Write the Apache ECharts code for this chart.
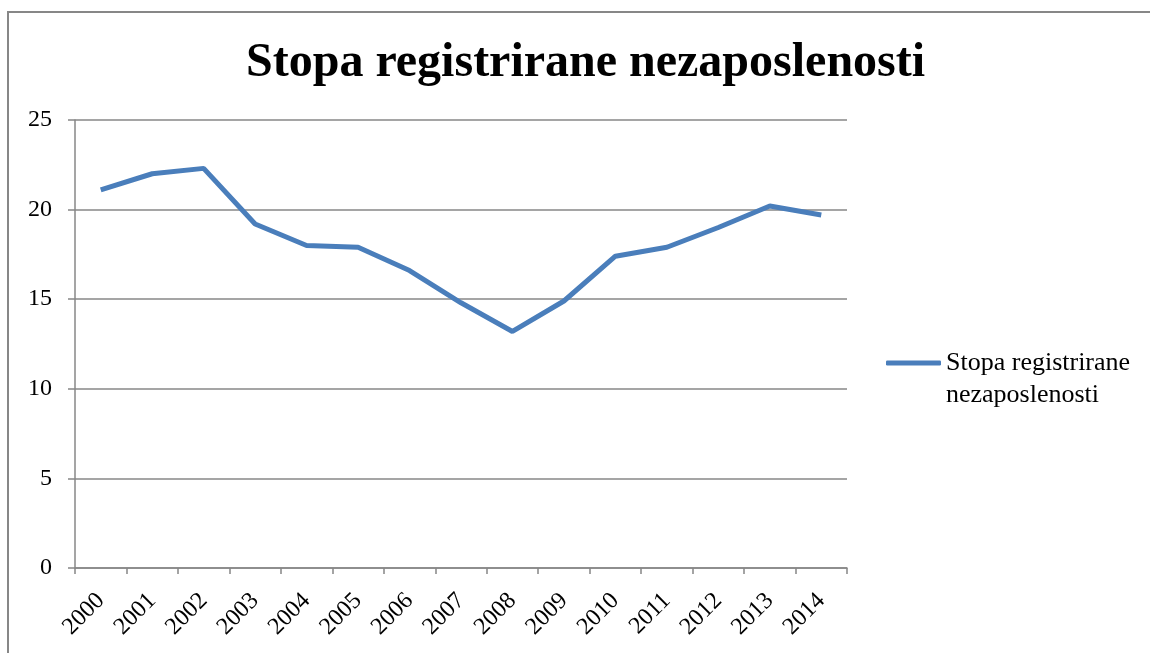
<!DOCTYPE html>
<html>
<head>
<meta charset="utf-8">
<title>Stopa registrirane nezaposlenosti</title>
<script src="https://cdn.jsdelivr.net/npm/echarts@6/dist/echarts.min.js"></script>
<style>
  html, body { margin: 0; padding: 0; background: #fff; }
  #chart { width: 1150px; height: 653px; }
</style>
</head>
<body>
<div id="chart"></div>
<script>
// podaci
var years = ['2000', '2001', '2002', '2003', '2004', '2005', '2006', '2007',
  '2008', '2009', '2010', '2011', '2012', '2013', '2014'];
var stopa = [21.1, 22.0, 22.3, 19.2, 18.0, 17.9, 16.6, 14.8,
  13.2, 14.9, 17.4, 17.9, 19.0, 20.2, 19.7];
var seriesName = 'Stopa registrirane nezaposlenosti';

var font = 'Liberation Serif, Times New Roman, serif';
var gray = '#878787';

var myChart = echarts.init(document.getElementById('chart'));

var option = {
  backgroundColor: '#fff',
  animation: false,
  title: {
    text: seriesName,
    left: 241,
    top: 35,
    textStyle: {fontFamily: font, fontWeight: 'bold', fontSize: 48, color: '#000'}
  },
  graphic: [{
    type: 'rect',
    shape: {x: 8, y: 12, width: 1200, height: 700},
    style: {fill: 'none', stroke: gray, lineWidth: 2},
    silent: true
  }],
  legend: {
    left: 881,
    top: 310,
    icon: 'roundRect',
    itemWidth: 55,
    itemHeight: 5,
    itemGap: 4,
    // prazan prvi red da ikona stoji uz prvi red teksta
    formatter: function () { return '\nStopa registrirane\nnezaposlenosti'; },
    textStyle: {fontFamily: font, fontSize: 26, color: '#000', lineHeight: 32},
    data: [seriesName]
  },
  grid: {left: 75, right: 303, top: 120, bottom: 85},
  xAxis: {
    type: 'category',
    data: years,
    boundaryGap: true,
    axisLine: {lineStyle: {color: gray, width: 1.5}},
    axisTick: {show: true, length: 6, lineStyle: {color: gray, width: 1.5}},
    axisLabel: {rotate: 45, margin: 29, fontFamily: font, fontSize: 24, color: '#000'}
  },
  yAxis: {
    type: 'value',
    min: 0,
    max: 25,
    interval: 5,
    axisLine: {show: true, lineStyle: {color: gray, width: 1.5}},
    axisTick: {show: true, length: 7, lineStyle: {color: gray, width: 1.5}},
    axisLabel: {margin: 23, fontFamily: font, fontSize: 24, color: '#000'},
    splitLine: {lineStyle: {color: gray, width: 1.5}}
  },
  series: [{
    name: seriesName,
    type: 'line',
    data: stopa,
    symbol: 'none',
    lineStyle: {color: '#4a7ebb', width: 5},
    itemStyle: {color: '#4a7ebb'}
  }]
};

myChart.setOption(option);
</script>
</body>
</html>
